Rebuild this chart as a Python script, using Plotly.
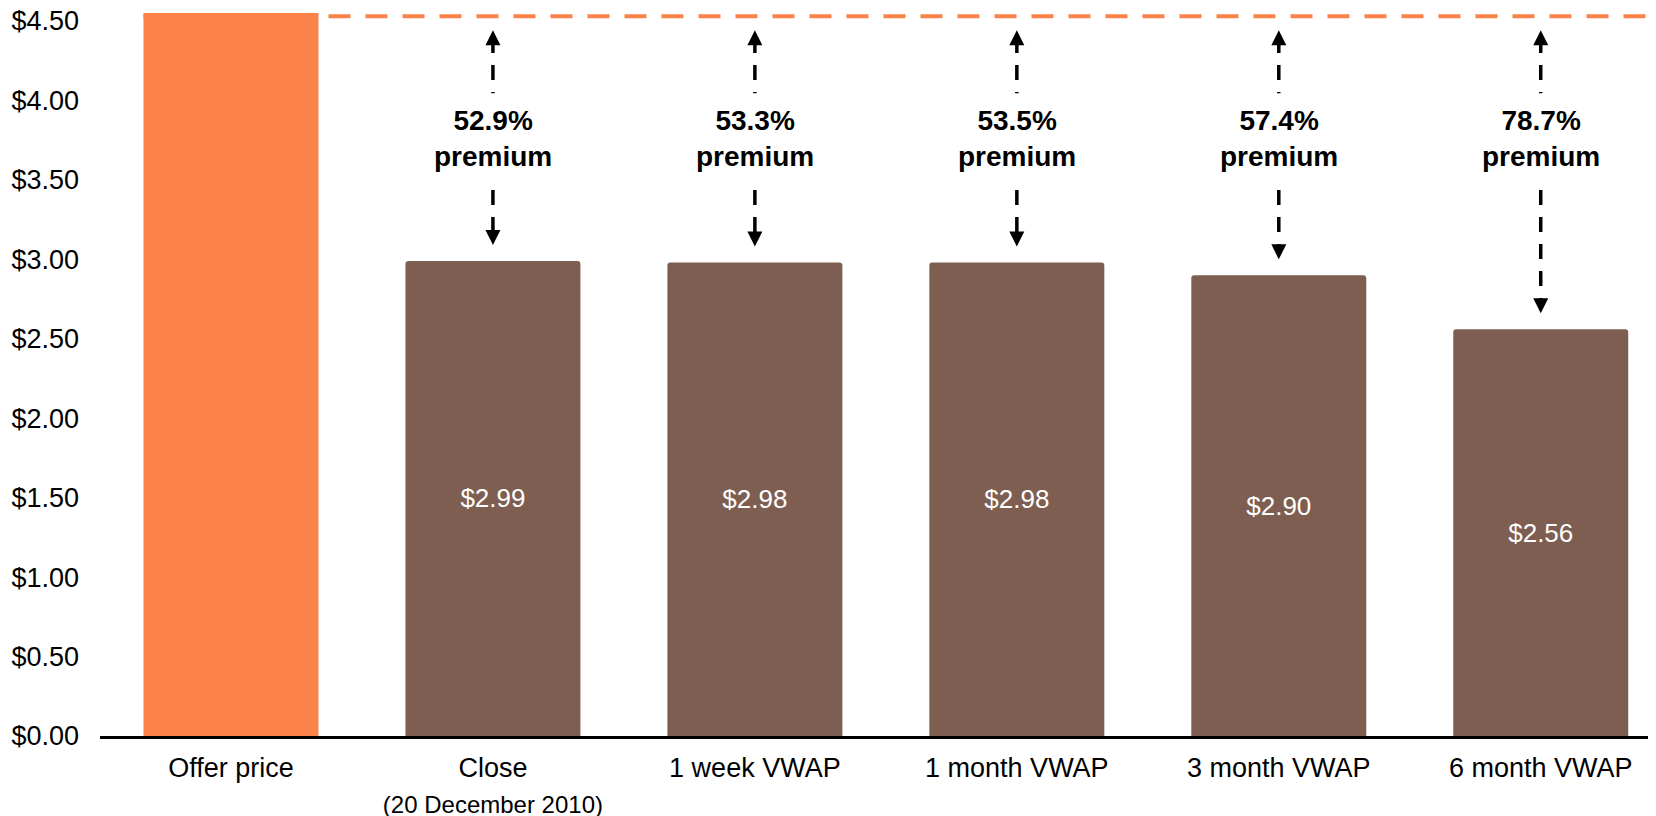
import plotly.graph_objects as go

# ---- data ----
categories = ["Offer price",
              "Close<br><span style='font-size:24px'>(20 December 2010)</span>",
              "1 week VWAP", "1 month VWAP", "3 month VWAP", "6 month VWAP"]
prices = [4.57, 2.99, 2.98, 2.98, 2.90, 2.56]
price_labels = ["$4.57", "$2.99", "$2.98", "$2.98", "$2.90", "$2.56"]
premiums = ["52.9%", "53.3%", "53.5%", "57.4%", "78.7%"]
ytick_vals = [0, 0.5, 1.0, 1.5, 2.0, 2.5, 3.0, 3.5, 4.0, 4.5]
ytick_text = [f"${v:.2f}" for v in ytick_vals]

# ---- style / layout constants ----
ORANGE = "#FB8349"
BROWN = "#7E5E50"
FONT = "Liberation Sans, Arial, Helvetica, sans-serif"
Y_TOP = 4.55
BAR_W = 0.668
X_END = 5.44

colors = [ORANGE] + [BROWN] * (len(prices) - 1)

fig = go.Figure()
fig.add_trace(go.Bar(
    x=categories, y=prices, width=BAR_W,
    marker=dict(color=colors, line=dict(width=0)),
    text=price_labels, textposition="inside", insidetextanchor="middle",
    textangle=0, textfont=dict(color="white", size=26, family=FONT),
    hoverinfo="skip", showlegend=False,
))

# reference line at the offer price (shown at top edge of the plot)
line_y = min(prices[0], Y_TOP) - 0.02
fig.add_shape(type="line", xref="x", yref="y",
              x0=-BAR_W / 2, x1=X_END + 0.1, y0=line_y, y1=line_y,
              line=dict(color=ORANGE, width=4, dash="22px,15px"))

# premium arrows + labels
top_tip = line_y - 0.088
top_seg_end = line_y - 0.485
text_y = 3.76
bot_seg_start = 3.436
for i, prem in enumerate(premiums, start=1):
    cat = categories[i]
    bot_tip = prices[i] + 0.10
    fig.add_trace(go.Scatter(
        x=[cat, cat], y=[top_tip - 0.05, top_seg_end], mode="lines",
        line=dict(color="black", width=3.5, dash="15px,12px"),
        hoverinfo="skip", showlegend=False))
    fig.add_trace(go.Scatter(
        x=[cat, cat], y=[bot_seg_start, bot_tip + 0.05], mode="lines",
        line=dict(color="black", width=3.5, dash="15px,12px"),
        hoverinfo="skip", showlegend=False))
    fig.add_trace(go.Scatter(
        x=[cat, cat], y=[top_tip, bot_tip], mode="markers",
        marker=dict(symbol=["arrow-up", "arrow-down"], size=15, color="black",
                    line=dict(width=0)),
        hoverinfo="skip", showlegend=False, cliponaxis=False))
    fig.add_annotation(x=cat, y=text_y, xref="x", yref="y",
                       text=f"<b>{prem}<br>premium</b>", showarrow=False,
                       font=dict(size=28, color="black", family=FONT),
                       align="center")

fig.update_layout(
    width=1648, height=808,
    margin=dict(l=92, r=0, t=5, b=80, autoexpand=False),
    paper_bgcolor="white", plot_bgcolor="white",
    font=dict(family=FONT, size=27, color="black"),
    barcornerradius=3,
    xaxis=dict(type="category", range=[-0.5, X_END], showline=True,
               linecolor="black", linewidth=3, showgrid=False, ticks="",
               automargin=False, ticklabelstandoff=6,
               tickfont=dict(size=27, color="black")),
    yaxis=dict(range=[0, Y_TOP], tickmode="array", tickvals=ytick_vals,
               ticktext=ytick_text, showgrid=False, zeroline=False,
               showline=False, ticks="", ticklabelstandoff=20,
               ticklabeloverflow="allow",
               automargin=False, tickfont=dict(size=27, color="black")),
)

fig.write_html("out.html")
